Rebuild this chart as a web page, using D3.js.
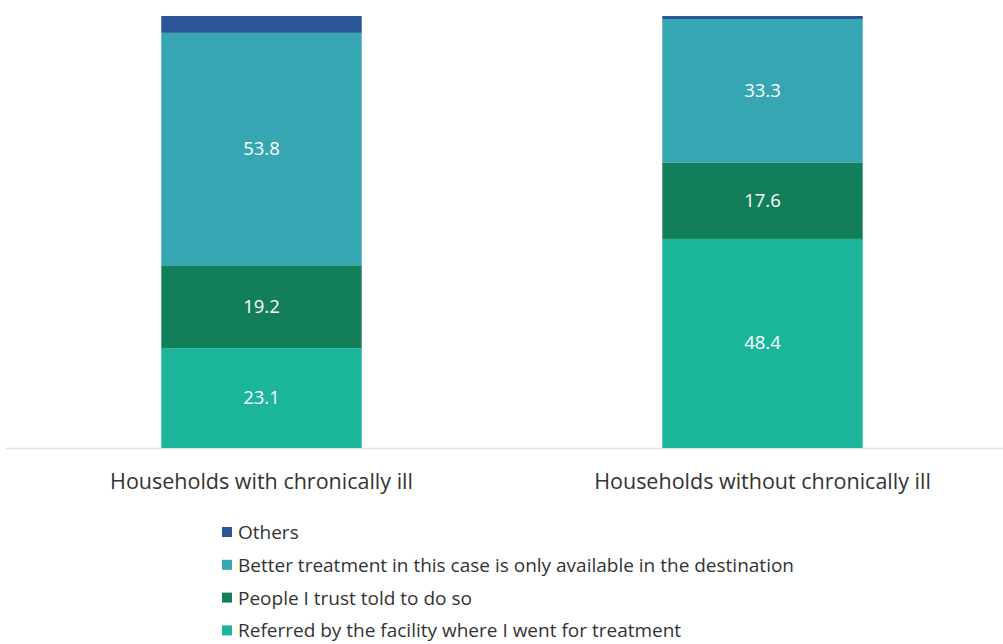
<!DOCTYPE html>
<html>
<head>
<meta charset="utf-8">
<script src="https://cdn.jsdelivr.net/npm/d3@7"></script>
<style>
  body { margin: 0; background: #fff; }
  text { font-family: "Open Sans", sans-serif; }
</style>
</head>
<body>
<svg width="1003" height="644"></svg>
<script>
const categories = ["Households with chronically ill", "Households without chronically ill"];
const seriesNames = [
  "Referred by the facility where I went for treatment",
  "People I trust told to do so",
  "Better treatment in this case is only available in the destination",
  "Others"
];
const referred = [23.1, 48.4];
const trusted = [19.2, 17.6];
const better = [53.8, 33.3];
const others = [3.9, 0.7];
const colours = ["#1bb59b", "#137f5a", "#35a6b2", "#2a5597"];
const showLabel = [true, true, true, false];

const svg = d3.select("svg");
const width = +svg.attr("width");

const seriesValues = [referred, trusted, better, others];
const rows = categories.map((c, i) => {
  const r = { cat: c };
  seriesNames.forEach((s, j) => (r[s] = seriesValues[j][i]));
  return r;
});
const stacked = d3.stack().keys(seriesNames)(rows);

const x = d3.scaleBand().domain(categories).range([21, 1003]).paddingInner(0.6).paddingOuter(0.28);
const y = d3.scaleLinear().domain([0, 100]).range([448, 16]);

// baseline
svg.append("line")
  .attr("x1", 5).attr("x2", width)
  .attr("y1", y(0) + 0.5).attr("y2", y(0) + 0.5)
  .attr("stroke", "#e2e2e2").attr("stroke-width", 1.5);

const layers = svg.append("g").selectAll("g").data(stacked).join("g")
  .attr("fill", (d, i) => colours[i]);

layers.selectAll("rect").data(d => d).join("rect")
  .attr("x", d => x(d.data.cat))
  .attr("width", x.bandwidth())
  .attr("y", d => y(d[1]))
  .attr("height", d => y(d[0]) - y(d[1]));

layers.filter((d, i) => showLabel[i]).selectAll("text").data(d => d).join("text")
  .attr("x", d => x(d.data.cat) + x.bandwidth() / 2)
  .attr("y", d => (y(d[0]) + y(d[1])) / 2 - 1.5)
  .attr("text-anchor", "middle")
  .attr("dominant-baseline", "central")
  .attr("fill", "#fff")
  .style("font-size", "18.5px")
  .text(d => (d[1] - d[0]).toFixed(1));

// category labels
svg.append("g").selectAll("text").data(categories).join("text")
  .attr("x", d => x(d) + x.bandwidth() / 2)
  .attr("y", 480)
  .attr("text-anchor", "middle")
  .attr("dominant-baseline", "central")
  .attr("fill", "#333")
  .style("font-size", "21.5px")
  .text(d => d);

// legend (top to bottom: reverse stack order)
const legendItems = seriesNames.map((s, i) => ({ name: s, colour: colours[i] })).reverse();
const legend = svg.append("g").selectAll("g").data(legendItems).join("g")
  .attr("transform", (d, i) => `translate(222, ${532 + i * 32.8})`);
legend.append("rect")
  .attr("x", 0).attr("y", -5).attr("width", 10).attr("height", 10)
  .attr("fill", d => d.colour);
legend.append("text")
  .attr("x", 16).attr("y", 0)
  .attr("dominant-baseline", "central")
  .attr("fill", "#333")
  .style("font-size", "19px")
  .text(d => d.name);
</script>
</body>
</html>
